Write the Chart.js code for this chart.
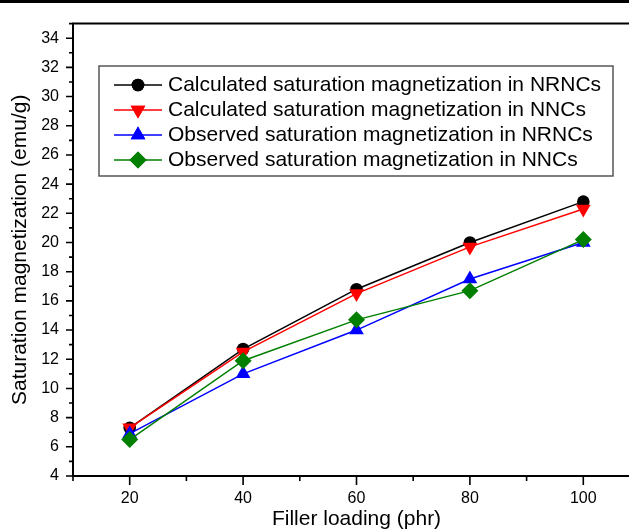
<!DOCTYPE html>
<html>
<head>
<meta charset="utf-8">
<script src="https://cdn.jsdelivr.net/npm/chart.js@4.4.1/dist/chart.umd.min.js"></script>
<style>
  html, body { margin: 0; padding: 0; background: #fff; }
  #wrap { position: relative; width: 629px; height: 530px; overflow: hidden; background: #fff; }
  #topbar { position: absolute; left: 0; top: 0; width: 629px; height: 3px; background: #000; z-index: 2; }
  #chart { position: absolute; left: 0; top: 0; }
</style>
</head>
<body>
<div id="wrap">
  <div id="topbar"></div>
  <canvas id="chart" width="660" height="530"></canvas>
</div>
<script>
// filler loading (phr)
const loadings = [20, 40, 60, 80, 100];

// saturation magnetization (emu/g)
const calcNRNC = [7.3, 12.7, 16.8, 20.0, 22.8];
const calcNNC  = [7.3, 12.5, 16.5, 19.7, 22.3];
const obsNRNC  = [6.9, 11.0, 14.0, 17.5, 20.0];
const obsNNC   = [6.5, 11.9, 14.7, 16.7, 20.2];

const seriesNames = [
  'Calculated saturation magnetization in NRNCs',
  'Calculated saturation magnetization in NNCs',
  'Observed saturation magnetization in NRNCs',
  'Observed saturation magnetization in NNCs'
];

const xTickValues = [20, 40, 60, 80, 100];
const xMinorValues = [10, 30, 50, 70, 90, 110];
const yTickValues = [4, 6, 8, 10, 12, 14, 16, 18, 20, 22, 24, 26, 28, 30, 32, 34];
const yMinorValues = [5, 7, 9, 11, 13, 15, 17, 19, 21, 23, 25, 27, 29, 31, 33, 35];

const FONT = "'Liberation Sans', Arial, Helvetica, sans-serif";

const toPoints = vals => vals.map((v, i) => ({ x: loadings[i], y: v }));

const makeSet = (i, vals, color, style, radius, rot, order) => ({
  label: seriesNames[i],
  data: toPoints(vals),
  borderColor: color,
  backgroundColor: color,
  borderWidth: 1.5,
  pointStyle: style,
  pointRadius: radius,
  pointRotation: rot,
  pointBorderWidth: 0,
  pointBackgroundColor: color,
  tension: 0,
  order: order
});

// frame + inner/outer tick marks (major and minor)
const axisFrame = {
  id: 'axisFrame',
  beforeDatasetsDraw(chart) {
    const { ctx, chartArea: a, scales: { x, y } } = chart;
    ctx.save();
    ctx.strokeStyle = '#000';
    ctx.lineWidth = 2;
    ctx.beginPath();
    ctx.moveTo(a.left, a.top);
    ctx.lineTo(a.left, a.bottom);
    ctx.lineTo(a.right, a.bottom);
    ctx.lineTo(a.right, a.top);
    ctx.closePath();
    ctx.stroke();

    ctx.lineWidth = 1.6;
    ctx.beginPath();
    xTickValues.forEach(v => {
      const px = x.getPixelForValue(v);
      ctx.moveTo(px, a.bottom);
      ctx.lineTo(px, a.bottom + 9);
    });
    xMinorValues.forEach(v => {
      const px = x.getPixelForValue(v);
      ctx.moveTo(px, a.bottom);
      ctx.lineTo(px, a.bottom + 5);
    });
    yTickValues.forEach(v => {
      const py = y.getPixelForValue(v);
      ctx.moveTo(a.left, py);
      ctx.lineTo(a.left - 7, py);
    });
    yMinorValues.forEach(v => {
      const py = y.getPixelForValue(v);
      ctx.moveTo(a.left, py);
      ctx.lineTo(a.left - 4, py);
    });
    ctx.stroke();
    ctx.restore();
  }
};

// boxed legend inside the plot
const boxLegend = {
  id: 'boxLegend',
  afterDatasetsDraw(chart) {
    const ctx = chart.ctx;
    const box = { left: 99, top: 66, right: 613, bottom: 176 };
    ctx.save();
    ctx.fillStyle = '#fff';
    ctx.fillRect(box.left, box.top, box.right - box.left, box.bottom - box.top);
    ctx.strokeStyle = '#555';
    ctx.lineWidth = 1.5;
    ctx.strokeRect(box.left, box.top, box.right - box.left, box.bottom - box.top);

    chart.data.datasets.forEach((ds, i) => {
      const rowY = box.top + 19 + i * 25;
      ctx.strokeStyle = ds.borderColor;
      ctx.lineWidth = ds.borderWidth;
      ctx.beginPath();
      ctx.moveTo(114, rowY);
      ctx.lineTo(162, rowY);
      ctx.stroke();

      ctx.fillStyle = ds.backgroundColor;
      Chart.helpers.drawPoint(ctx, {
        pointStyle: ds.pointStyle,
        rotation: ds.pointRotation,
        radius: ds.pointRadius,
        borderWidth: 0
      }, 138, rowY);
      ctx.fill();

      ctx.fillStyle = '#000';
      ctx.font = '21px ' + FONT;
      ctx.textBaseline = 'middle';
      ctx.textAlign = 'left';
      ctx.fillText(ds.label, 168, rowY);
    });
    ctx.restore();
  }
};

new Chart(document.getElementById('chart'), {
  type: 'line',
  data: {
    datasets: [
      makeSet(0, calcNRNC, '#000000', 'circle', 6.3, 0, 3),
      makeSet(1, calcNNC, '#ff0000', 'triangle', 8.5, 180, 2),
      makeSet(2, obsNRNC, '#0000ff', 'triangle', 8.5, 0, 1),
      makeSet(3, obsNNC, '#007f00', 'rectRot', 8.5, 0, 0)
    ]
  },
  options: {
    responsive: false,
    animation: false,
    events: [],
    layout: { padding: { top: 14, right: 20, left: 0, bottom: 0 } },
    plugins: {
      legend: { display: false },
      tooltip: { enabled: false }
    },
    scales: {
      x: {
        type: 'linear',
        position: 'bottom',
        min: 10,
        max: 110,
        grid: { display: false, drawTicks: false },
        border: { display: false },
        afterBuildTicks: axis => { axis.ticks = xTickValues.map(v => ({ value: v })); },
        afterFit: axis => { axis.height = 54; },
        ticks: {
          color: '#000',
          font: { family: FONT, size: 16 },
          padding: 13,
          maxRotation: 0,
          autoSkip: false
        },
        title: {
          display: true,
          text: 'Filler loading (phr)',
          color: '#000',
          font: { family: FONT, size: 21, lineHeight: 1 },
          padding: { top: 0, bottom: 0 }
        }
      },
      y: {
        type: 'linear',
        min: 4,
        max: 35,
        grid: { display: false, drawTicks: false },
        border: { display: false },
        afterBuildTicks: axis => { axis.ticks = yTickValues.map(v => ({ value: v })); },
        afterFit: axis => { axis.width = 73; },
        ticks: {
          color: '#000',
          font: { family: FONT, size: 16 },
          padding: 14,
          autoSkip: false
        },
        title: {
          display: true,
          text: 'Saturation magnetization (emu/g)',
          color: '#000',
          font: { family: FONT, size: 21, lineHeight: 1 },
          padding: { top: 10, bottom: 0 }
        }
      }
    }
  },
  plugins: [axisFrame, boxLegend]
});
</script>
</body>
</html>
